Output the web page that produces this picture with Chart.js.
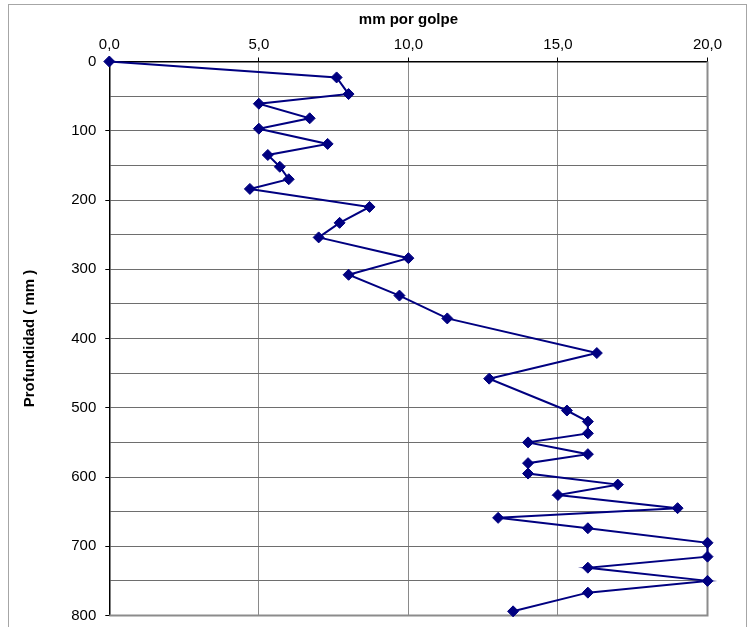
<!DOCTYPE html>
<html>
<head>
<meta charset="utf-8">
<script src="https://cdn.jsdelivr.net/npm/chart.js@4/dist/chart.umd.min.js"></script>
<style>
  html, body { margin: 0; padding: 0; background: #fff; }
  #wrap { position: absolute; left: 0; top: 0; width: 749px; height: 627px; }
</style>
</head>
<body>
<div id="wrap"><canvas id="c" width="749" height="627"></canvas></div>
<script>
// Data
const depthMm = [0, 23, 47, 61, 82, 97, 119, 135, 152, 170, 184, 210, 233, 254, 284, 308, 338, 371, 421, 458, 504, 520, 537, 550, 567, 580, 595, 611, 626, 645, 659, 674, 695, 715, 731, 750, 767, 794];
const mmPerBlow = [0, 7.6, 8.0, 5.0, 6.7, 5.0, 7.3, 5.3, 5.7, 6.0, 4.7, 8.7, 7.7, 7.0, 10.0, 8.0, 9.7, 11.3, 16.3, 12.7, 15.3, 16.0, 16.0, 14.0, 16.0, 14.0, 14.0, 17.0, 15.0, 19.0, 13.0, 16.0, 20.0, 20.0, 16.0, 20.0, 16.0, 13.5];
const xTickLabels = ['0,0', '5,0', '10,0', '15,0', '20,0'];
const yTickLabels = ['0', '100', '200', '300', '400', '500', '600', '700', '800'];
const xTitle = 'mm por golpe';
const yTitle = 'Profundidad ( mm )';

const points = depthMm.map((d, i) => ({ x: mmPerBlow[i], y: d }));
const FONT = "'Liberation Sans', Arial, sans-serif";

const framePlugin = {
  id: 'frame',
  beforeDraw(chart) {
    const ctx = chart.ctx;
    ctx.save();
    ctx.strokeStyle = '#a6a6a6';
    ctx.lineWidth = 1;
    ctx.strokeRect(8.5, 4.5, 738, 700);
    ctx.restore();
  },
  beforeDatasetsDraw(chart) {
    const { ctx, chartArea: a } = chart;
    ctx.save();
    ctx.strokeStyle = '#8c8c8c';
    ctx.lineWidth = 2;
    ctx.beginPath();
    ctx.moveTo(a.right, a.top);
    ctx.lineTo(a.right, a.bottom);
    ctx.lineTo(a.left, a.bottom);
    ctx.stroke();
    ctx.restore();
  }
};

new Chart(document.getElementById('c'), {
  type: 'scatter',
  data: {
    datasets: [{
      data: points,
      showLine: true,
      borderColor: '#000080',
      backgroundColor: '#000080',
      borderWidth: 2,
      pointStyle: 'rectRot',
      pointRadius: 5.5,
      pointHoverRadius: 5.5,
      pointBorderWidth: 1,
      clip: false,
      tension: 0
    }]
  },
  options: {
    responsive: false,
    animation: false,
    events: [],
    layout: { padding: { left: 0, top: 0, right: 41.5, bottom: 11.5 } },
    plugins: { legend: { display: false }, tooltip: { enabled: false } },
    scales: {
      x: {
        type: 'linear',
        position: 'top',
        min: 0, max: 20,
        afterFit(s) { s.height = 61.5; s.paddingLeft = 0; s.paddingRight = 0; },
        ticks: {
          stepSize: 5,
          color: '#000',
          font: { family: FONT, size: 15 },
          padding: 4,
          maxRotation: 0,
          callback: (v) => xTickLabels[Math.round(v / 5)]
        },
        grid: {
          color: '#8a8a8a',
          lineWidth: 1,
          tickLength: 4,
          tickColor: '#000',
          drawTicks: true
        },
        border: { display: true, color: '#000', width: 1.5 },
        title: {
          display: true,
          text: xTitle,
          color: '#000',
          font: { family: FONT, size: 15, weight: 'bold' },
          padding: { top: 11, bottom: 0 }
        }
      },
      y: {
        type: 'linear',
        reverse: true,
        min: 0, max: 800,
        afterFit(s) { s.width = 109.3; s.paddingTop = 0; s.paddingBottom = 0; },
        ticks: {
          stepSize: 50,
          color: '#000',
          font: { family: FONT, size: 15 },
          padding: 9,
          autoSkip: false,
          callback: (v) => (v % 100 === 0 ? yTickLabels[v / 100] : '')
        },
        grid: {
          color: '#6e6e6e',
          lineWidth: 1,
          tickLength: 4,
          tickColor: (c) => (c.tick && c.tick.value % 100 === 0 ? '#000' : 'rgba(0,0,0,0)')
        },
        border: { display: true, color: '#000', width: 1.5 },
        title: {
          display: true,
          text: yTitle,
          color: '#000',
          font: { family: FONT, size: 15, weight: 'bold' },
          padding: { top: 20.5, bottom: 0 }
        }
      }
    }
  },
  plugins: [framePlugin]
});
</script>
</body>
</html>
